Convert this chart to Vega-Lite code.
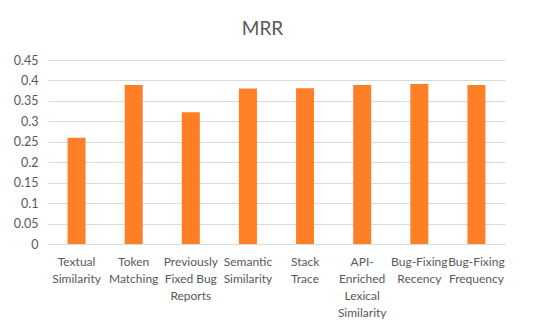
{
  "$schema": "https://vega.github.io/schema/vega-lite/v6.json",
  "autosize": "none",
  "width": 457,
  "height": 184,
  "padding": {"left": 48, "top": 60, "right": 45, "bottom": 91},
  "background": "white",
  "title": {"text": "MRR", "fontSize": 19, "font": "Lato", "fontWeight": "normal", "color": "#595959", "offset": 15, "dx": -14},
  "data": {"values": [
    {"feature": "Textual Similarity", "mrr": 0.26},
    {"feature": "Token Matching", "mrr": 0.389},
    {"feature": "Previously Fixed Bug Reports", "mrr": 0.322},
    {"feature": "Semantic Similarity", "mrr": 0.38},
    {"feature": "Stack Trace", "mrr": 0.381},
    {"feature": "API-Enriched Lexical Similarity", "mrr": 0.389},
    {"feature": "Bug-Fixing Recency", "mrr": 0.391},
    {"feature": "Bug-Fixing Frequency", "mrr": 0.389}
  ]},
  "mark": {"type": "bar", "color": "#FF7F27", "width": 18},
  "encoding": {
    "x": {"field": "feature", "type": "nominal", "sort": null, "title": null,
      "axis": {"labelAngle": 0, "ticks": false, "domainColor": "#d9d9d9", "labelColor": "#595959", "labelFont": "Lato", "labelFontSize": 12, "labelLineHeight": 17, "labelPadding": 12, "labelLimit": 0,
        "labelExpr": "{'Textual Similarity':['Textual','Similarity'],'Token Matching':['Token','Matching'],'Previously Fixed Bug Reports':['Previously','Fixed Bug','Reports'],'Semantic Similarity':['Semantic','Similarity'],'Stack Trace':['Stack','Trace'],'API-Enriched Lexical Similarity':['API-','Enriched','Lexical','Similarity'],'Bug-Fixing Recency':['Bug-Fixing','Recency'],'Bug-Fixing Frequency':['Bug-Fixing','Frequency']}[datum.value]"}},
    "y": {"field": "mrr", "type": "quantitative", "title": null,
      "scale": {"domain": [0, 0.45]},
      "axis": {"values": [0, 0.05, 0.1, 0.15, 0.2, 0.25, 0.3, 0.35, 0.4, 0.45], "domain": false, "ticks": false, "gridColor": "#d9d9d9", "labelColor": "#595959", "labelFont": "Lato", "labelFontSize": 12.5, "labelPadding": 10, "labelExpr": "datum.value == 0 ? '0' : format(datum.value, '.2~f')"}}
  },
  "config": {"view": {"stroke": null}}
}
